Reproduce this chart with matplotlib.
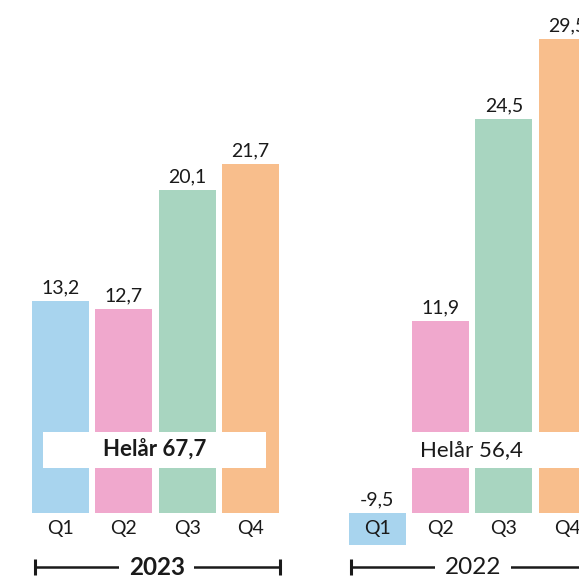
import matplotlib
matplotlib.use("Agg")
import matplotlib.pyplot as plt

# data
quarters = ["Q1", "Q2", "Q3", "Q4"]
years = ["2023", "2022"]
values_2023 = [13.2, 12.7, 20.1, 21.7]
values_2022 = [-9.5, 11.9, 24.5, 29.5]
full_year = [67.7, 56.4]
bold_year = [True, False]

colors = ["#a8d4ee", "#f0a8cd", "#a8d5c0", "#f8be8c"]
txt = "#1a1a1a"

plt.rcParams['font.family'] = ['Lato', 'DejaVu Sans']

fig = plt.figure(figsize=(5.79, 5.76), dpi=100)
ax = fig.add_axes([0, 31 / 576, 1, 545 / 576])
ax.set_xlim(-0.955, 8.187)
ax.set_ylim(-2.02, 31.91)
ax.axis("off")


def fmt(v):
    return f"{v:.1f}".replace(".", ",")


for g, (year, vals, total, bold) in enumerate(zip(years, [values_2023, values_2022],
                                                full_year, bold_year)):
    off = g * 5
    xs = [off + i for i in range(4)]
    ax.bar(xs, vals, width=0.9, color=colors, zorder=1)

    for x, v, q in zip(xs, vals, quarters):
        ax.annotate(fmt(v), (x, max(v, 0)), xytext=(0, 5.5), textcoords="offset points",
                    ha="center", va="baseline", fontsize=14, color=txt)
        ax.text(x, -0.97, q, ha="center", va="center", fontsize=14, color=txt)

    # full-year box over the bars
    ax.add_patch(plt.Rectangle((off - 0.276, 2.77), 3.52, 2.25, facecolor="white",
                               edgecolor="none", zorder=2))
    ax.text(off + 1.49, 3.9, "Helår " + fmt(total), ha="center", va="center",
            fontsize=16, color=txt, fontweight="bold" if bold else "normal", zorder=3)

    # year bracket below
    y_line = -3.4
    x0, x1 = off - 0.41, off + 3.46
    ax.plot([x0, x1], [y_line, y_line], color=txt, lw=1.8, clip_on=False,
            solid_capstyle="butt")
    for xe in (x0, x1):
        ax.plot([xe, xe], [y_line - 0.5, y_line + 0.5], color=txt, lw=2.2, clip_on=False,
                solid_capstyle="butt")
    ax.text(off + 1.52, y_line, year, ha="center", va="center", fontsize=17.5, color=txt,
            fontweight="bold" if bold else "normal", clip_on=False,
            bbox=dict(facecolor="white", edgecolor="none", pad=7))

fig.savefig("out.png", dpi=100)
